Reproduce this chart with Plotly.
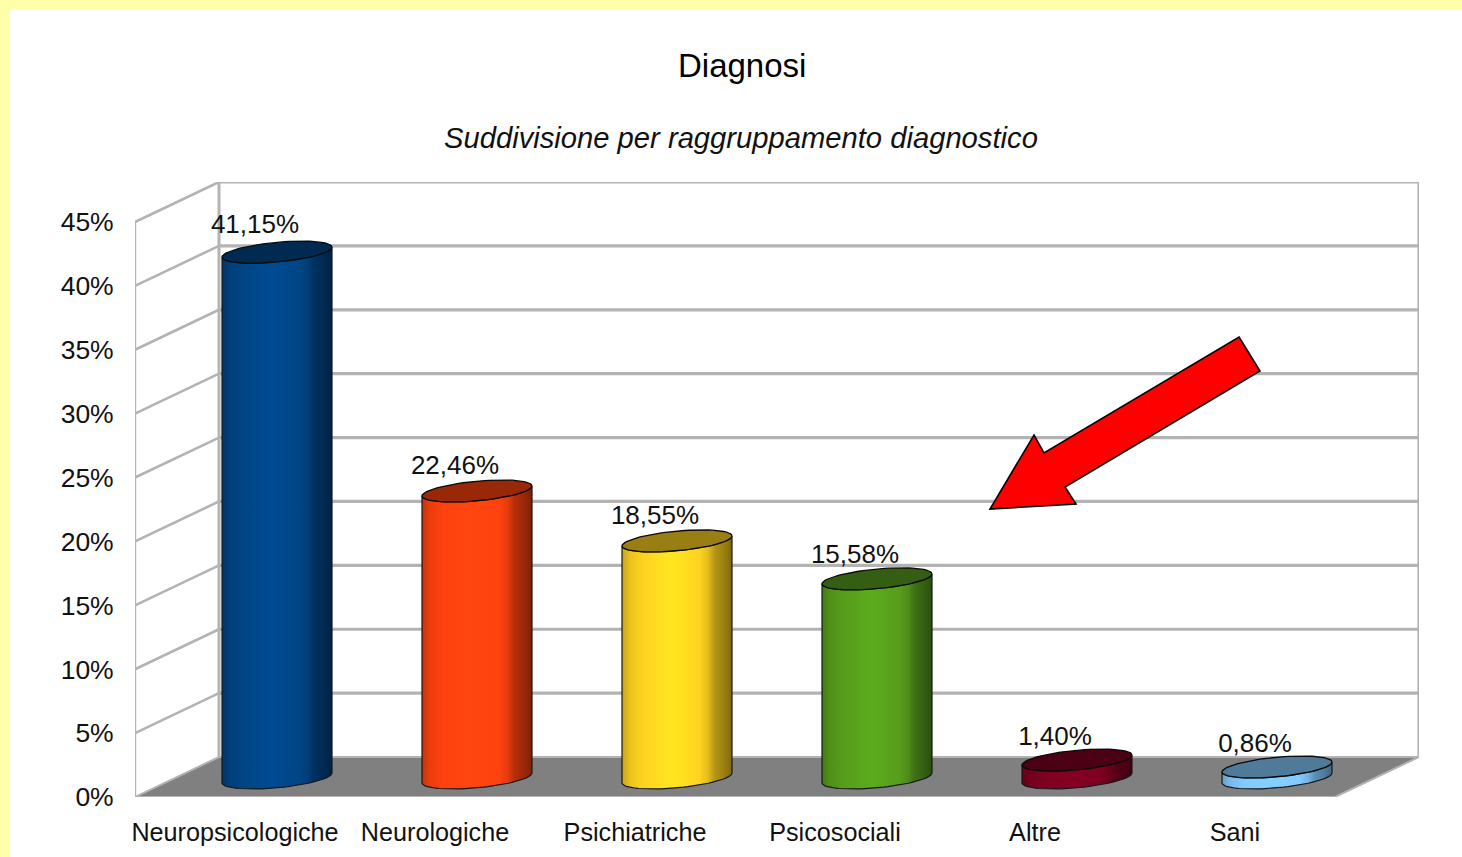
import numpy as np
import plotly.graph_objects as go

CATEGORIES = ["Neuropsicologiche", "Neurologiche", "Psichiatriche", "Psicosociali", "Altre", "Sani"]
VALUES = [41.15, 22.46, 18.55, 15.58, 1.40, 0.86]
Y_TICKS = [0, 5, 10, 15, 20, 25, 30, 35, 40, 45]
BASE_COLORS = ["#004586", "#ff420e", "#ffd320", "#579d1c", "#7e0021", "#83caff"]
MID_COLORS = ["#004c92", "#ff4510", "#ffe620", "#5cab1e", "#850023", "#83d0ff"]
TOP_COLORS = ["#002a50", "#992809", "#997f13", "#345e11", "#4c0014", "#4f7a99"]

TITLE = "Diagnosi"
SUBTITLE = "Suddivisione per raggruppamento diagnostico"
FONT = "Liberation Sans"
GRID = "#b3b3b3"
FLOOR = "#808080"
YELLOW = "#ffffaa"

W, H = 1462, 857
L, R, T, B = 135, 1419, 182, 797
DX, DY = 0.42, 3.13          # depth of the 3D box in axis units
BX, BY = 0.21, 1.49          # where the cylinders stand inside the box
A, E, TILT = 0.275, 0.77, 0.39
XR = [-0.5, 5.5 + DX]
YR = [0, 45 + DY]


def mix(c, f):
    r, g, b = int(c[1:3], 16), int(c[3:5], 16), int(c[5:7], 16)
    return f"rgb({int(r*f)},{int(g*f)},{int(b*f)})"


def ell(cx, cy, t):
    return cx + A * np.cos(t), cy + TILT * np.cos(t) + E * np.sin(t)


def px(x, y):
    return (x - L) / (R - L), (B - y) / (B - T)


fig = go.Figure()


def line(xs, ys, width=2.6, color=GRID):
    fig.add_trace(go.Scatter(x=xs, y=ys, mode="lines", line=dict(color=color, width=width),
                             cliponaxis=False, hoverinfo="skip", showlegend=False))


# floor
fig.add_trace(go.Scatter(x=[-0.5, -0.5 + DX, 5.5 + DX, 5.5, -0.5],
                         y=[0, DY, DY, 0, 0], mode="lines", fill="toself",
                         fillcolor=FLOOR, line=dict(color=GRID, width=2),
                         cliponaxis=False, hoverinfo="skip", showlegend=False))
# walls
for v in Y_TICKS[1:]:
    line([-0.5, -0.5 + DX], [v, v + DY], 2.6)
    line([-0.5 + DX, 5.5 + DX], [v + DY, v + DY], 3.2)
line([-0.5, -0.5], [0, 45], 2.4)
line([-0.5 + DX, -0.5 + DX], [DY, 45 + DY], 3)
line([5.5 + DX, 5.5 + DX], [DY, 45 + DY], 3.2)

# cylinders
t_low = np.linspace(0, -np.pi, 40)
t_all = np.linspace(0, 2 * np.pi, 80)
for i, v in enumerate(VALUES):
    cx = i + BX
    c, m, top = BASE_COLORS[i], MID_COLORS[i], TOP_COLORS[i]
    xb, yb = ell(cx, BY, t_low)
    xt, yt = ell(cx, v + BY, t_low[::-1])
    fig.add_trace(go.Scatter(
        x=np.r_[xb, xt, xb[0]], y=np.r_[yb, yt, yb[0]], mode="lines", fill="toself",
        fillgradient=dict(type="horizontal", start=cx - A, stop=cx + A, colorscale=[
            [0, mix(c, 0.78)], [0.07, mix(c, 0.92)], [0.2, c], [0.45, m], [0.7, c],
            [0.78, mix(c, 0.9)], [0.84, mix(c, 0.72)], [0.92, mix(c, 0.62)], [1, mix(c, 0.5)]]),
        line=dict(color="#15181a", width=1.2), cliponaxis=False,
        hoverinfo="skip", showlegend=False))
    xe, ye = ell(cx, v + BY, t_all)
    fig.add_trace(go.Scatter(x=xe, y=ye, mode="lines", fill="toself", fillcolor=top,
                             line=dict(color="#0a0a0a", width=1.3), cliponaxis=False,
                             hoverinfo="skip", showlegend=False))

# value labels
fig.add_trace(go.Scatter(
    x=[i + 0.10 for i in range(len(VALUES))],
    y=[v + BY + 1.65 + 0.008 * v for v in VALUES],
    text=[f"{v:.2f}".replace(".", ",") + "%" for v in VALUES],
    mode="text", textposition="middle center",
    textfont=dict(family=FONT, size=26, color="#111111"),
    cliponaxis=False, hoverinfo="skip", showlegend=False))

# page frame and arrow
x0, y0 = px(10, 9)
x1, y1 = px(W, H)
fig.add_shape(type="rect", xref="paper", yref="paper", x0=x0, y0=y0, x1=x1, y1=y1,
              fillcolor="white", line_width=0, layer="below")
ARROW_PX = [(1239, 337), (1260, 371), (1065, 487), (1076, 504), (990, 509), (1034, 435), (1044, 453)]
path = "M " + " L ".join("{:.5f} {:.5f}".format(*px(*p)) for p in ARROW_PX) + " Z"
fig.add_shape(type="path", xref="paper", yref="paper", path=path, fillcolor="#ff0000",
              line=dict(color="#000000", width=1.6), layer="above")

fig.update_layout(
    width=W, height=H, autosize=False, showlegend=False,
    margin=dict(l=L, r=W - R, t=T, b=H - B, pad=0, autoexpand=False),
    paper_bgcolor=YELLOW, plot_bgcolor="rgba(0,0,0,0)",
    font=dict(family=FONT, color="#111111"),
    xaxis=dict(range=XR, tickvals=list(range(len(CATEGORIES))), ticktext=CATEGORIES,
               showgrid=False, zeroline=False, showline=False, ticks="outside", automargin=False,
               ticklen=13, tickcolor="rgba(0,0,0,0)", tickfont=dict(size=25.2)),
    yaxis=dict(range=YR, tickvals=Y_TICKS, ticktext=[f"{v}%" for v in Y_TICKS],
               showgrid=False, zeroline=False, showline=False, ticks="outside", automargin=False,
               ticklen=15, tickcolor="rgba(0,0,0,0)", tickfont=dict(size=26.5)),
    annotations=[
        dict(text=TITLE, xref="paper", yref="paper", x=px(741.5, 0)[0], y=px(0, 65)[1],
             showarrow=False, font=dict(size=33, color="#000000"), xanchor="center", yanchor="middle"),
        dict(text=f"<i>{SUBTITLE}</i>", xref="paper", yref="paper", x=px(741, 0)[0], y=px(0, 138)[1],
             showarrow=False, font=dict(size=29.2, color="#111111"), xanchor="center", yanchor="middle"),
    ],
)

fig.write_html("out.html", config={"displayModeBar": False},
               post_script="document.body.style.margin='0';document.body.style.overflow='hidden';")
